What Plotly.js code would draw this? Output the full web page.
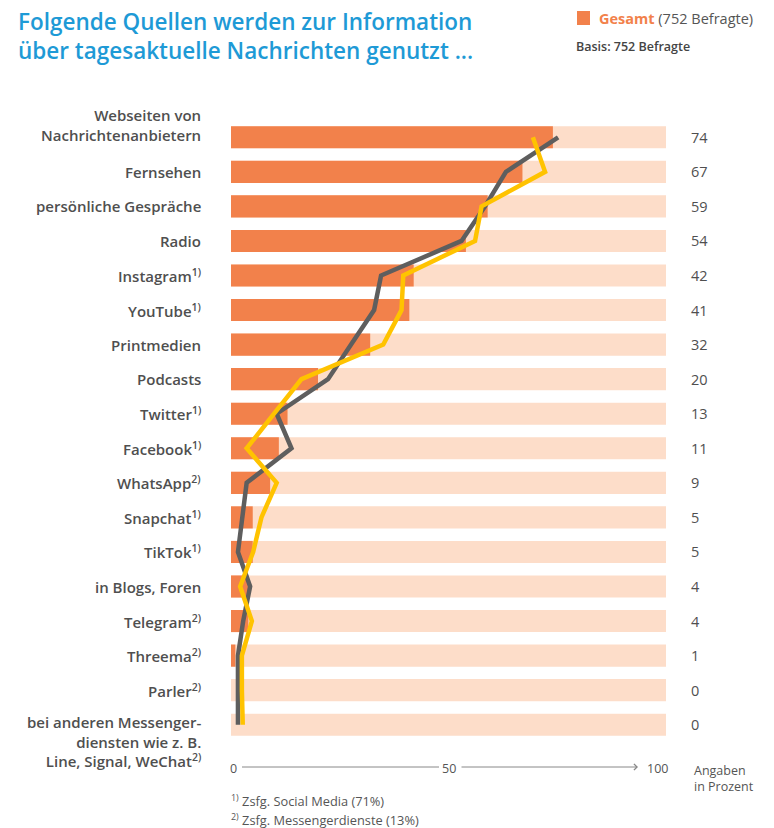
<!DOCTYPE html>
<html>
<head>
<meta charset="utf-8">
<script src="https://cdn.plot.ly/plotly-3.0.1.min.js"></script>
<style>html,body{margin:0;padding:0;background:#fff;}#chart{width:774px;height:828px;}</style>
</head>
<body>
<div id="chart"></div>
<script>
// ---- data ----
const categories = [
  "Webseiten von<br>Nachrichtenanbietern",
  "Fernsehen",
  "persönliche Gespräche",
  "Radio",
  "Instagram<sup>1)</sup>",
  "YouTube<sup>1)</sup>",
  "Printmedien",
  "Podcasts",
  "Twitter<sup>1)</sup>",
  "Facebook<sup>1)</sup>",
  "WhatsApp<sup>2)</sup>",
  "Snapchat<sup>1)</sup>",
  "TikTok<sup>1)</sup>",
  "in Blogs, Foren",
  "Telegram<sup>2)</sup>",
  "Threema<sup>2)</sup>",
  "Parler<sup>2)</sup>",
  "bei anderen Messenger-<br>diensten wie z. B.<br>Line, Signal, WeChat<sup>2)</sup>"
];
const gesamt = [74, 67, 59, 54, 42, 41, 32, 20, 13, 11, 9, 5, 5, 4, 4, 1, 0, 0];
const grayLine = [75.2, 63.2, 58.4, 53.0, 34.5, 32.9, 27.6, 22.3, 10.5, 13.9, 3.6, 2.5, 1.6, 4.4, 2.8, 1.6, 1.6, 1.6];
const yellowLine = [69.4, 72.2, 57.6, 56.1, 39.6, 39.2, 35.0, 16.2, 9.9, 3.6, 10.5, 7.0, 5.1, 2.1, 4.8, 2.5, 2.5, 2.7];
const axisTicks = [0, 50, 100];
const axisTickLabels = ["0", "50", "100"];
const scaleMax = 100;

// ---- layout helpers ----
const W = 774, H = 828;
const M = {l: 231, r: 108, t: 120, b: 86};
const PW = W - M.l - M.r, PH = H - M.t - M.b;
const px = x => (x - M.l) / PW;
const py = y => (H - M.b - y) / PH;

const idx = categories.map((_, i) => i);
const FONT = "'Open Sans', 'Noto Sans', sans-serif";
const labelColor = "#4f4f4f";

const traces = [
  {type: "bar", orientation: "h", y: idx, x: categories.map(() => scaleMax),
   marker: {color: "#FDDDC9"}, width: 0.64, hoverinfo: "skip", showlegend: false},
  {type: "bar", orientation: "h", y: idx, x: gesamt,
   marker: {color: "#F2814B"}, width: 0.64, hoverinfo: "skip", showlegend: false},
  {type: "scatter", mode: "lines", y: idx, x: grayLine,
   line: {color: "#5E5E5E", width: 4.5}, cliponaxis: false, hoverinfo: "skip", showlegend: false},
  {type: "scatter", mode: "lines", y: idx, x: yellowLine,
   line: {color: "#FFC300", width: 4.5}, cliponaxis: false, hoverinfo: "skip", showlegend: false}
];

const annotations = [];
// title
annotations.push({
  xref: "paper", x: px(16), xanchor: "left", yref: "paper", y: py(4), yanchor: "top",
  text: "Folgende Quellen werden zur Information<br>über tagesaktuelle Nachrichten genutzt ...",
  showarrow: false, align: "left",
  font: {family: FONT, size: 22.5, color: "#1E9AD6", weight: 600}
});
// category labels
categories.forEach((c, i) => {
  let yanchor = "middle", yshift = 0;
  if (i === 0) { yanchor = "bottom"; yshift = -10; }
  if (i === categories.length - 1) { yanchor = "top"; yshift = 15; }
  annotations.push({
    xref: "paper", x: px(203), xanchor: "right", yref: "y", y: i, yanchor, yshift,
    text: c, showarrow: false, align: "right",
    font: {family: FONT, size: 15, color: labelColor, weight: 600}
  });
});
// values on right
gesamt.forEach((v, i) => {
  annotations.push({
    xref: "paper", x: px(689), xanchor: "left", yref: "y", y: i,
    text: String(v), showarrow: false,
    font: {family: FONT, size: 14.5, color: labelColor}
  });
});
// x-axis labels
const tickPx = [233, 449, 657];
axisTicks.forEach((t, i) => {
  annotations.push({
    xref: "paper", x: px(tickPx[i]), xanchor: "center", yref: "paper", y: py(768), yanchor: "middle",
    text: axisTickLabels[i], showarrow: false,
    font: {family: FONT, size: 12.5, color: "#555"}
  });
});
// arrow
annotations.push({
  xref: "paper", x: px(638), yref: "paper", y: py(767), ax: -178, ay: 0,
  axref: "pixel", ayref: "pixel", text: "", showarrow: true,
  arrowhead: 4, arrowsize: 1.2, arrowwidth: 1, arrowcolor: "#888"
});
annotations.push({
  xref: "paper", x: px(692), xanchor: "left", yref: "paper", y: py(778), yanchor: "middle",
  text: "Angaben<br>in Prozent", showarrow: false, align: "left",
  font: {family: FONT, size: 12.5, color: "#555"}
});
// footnotes
annotations.push({
  xref: "paper", x: px(229), xanchor: "left", yref: "paper", y: py(800), yanchor: "middle",
  text: "<sup>1)</sup> Zsfg. Social Media (71%)", showarrow: false,
  font: {family: FONT, size: 12.8, color: "#555"}
});
annotations.push({
  xref: "paper", x: px(229), xanchor: "left", yref: "paper", y: py(819), yanchor: "middle",
  text: "<sup>2)</sup> Zsfg. Messengerdienste (13%)", showarrow: false,
  font: {family: FONT, size: 12.8, color: "#555"}
});
// legend
annotations.push({
  xref: "paper", x: px(597), xanchor: "left", yref: "paper", y: py(18), yanchor: "middle",
  text: "<b><span style='color:#F2814B'>Gesamt</span></b> (752 Befragte)", showarrow: false,
  font: {family: FONT, size: 14.5, color: "#555"}
});
annotations.push({
  xref: "paper", x: px(574), xanchor: "left", yref: "paper", y: py(46), yanchor: "middle",
  text: "Basis: 752 Befragte", showarrow: false,
  font: {family: FONT, size: 12.5, color: "#444", weight: 600}
});

const shapes = [
  {type: "rect", xref: "paper", yref: "paper", x0: px(577), x1: px(590), y0: py(25), y1: py(11),
   fillcolor: "#F2814B", line: {width: 0}},
  {type: "line", xref: "paper", yref: "paper", x0: px(242), x1: px(439), y0: py(767), y1: py(767),
   line: {color: "#888", width: 1}}
];

const layout = {
  width: W, height: H,
  margin: M,
  paper_bgcolor: "#fff", plot_bgcolor: "#fff",
  barmode: "overlay",
  showlegend: false,
  hovermode: false,
  xaxis: {range: [0, scaleMax], showgrid: false, zeroline: false, showticklabels: false, showline: false, fixedrange: true},
  yaxis: {range: [categories.length - 0.5, -0.5], showgrid: false, zeroline: false, showticklabels: false, showline: false, fixedrange: true},
  annotations, shapes
};

Plotly.newPlot("chart", traces, layout, {displayModeBar: false, staticPlot: true});
</script>
</body>
</html>
